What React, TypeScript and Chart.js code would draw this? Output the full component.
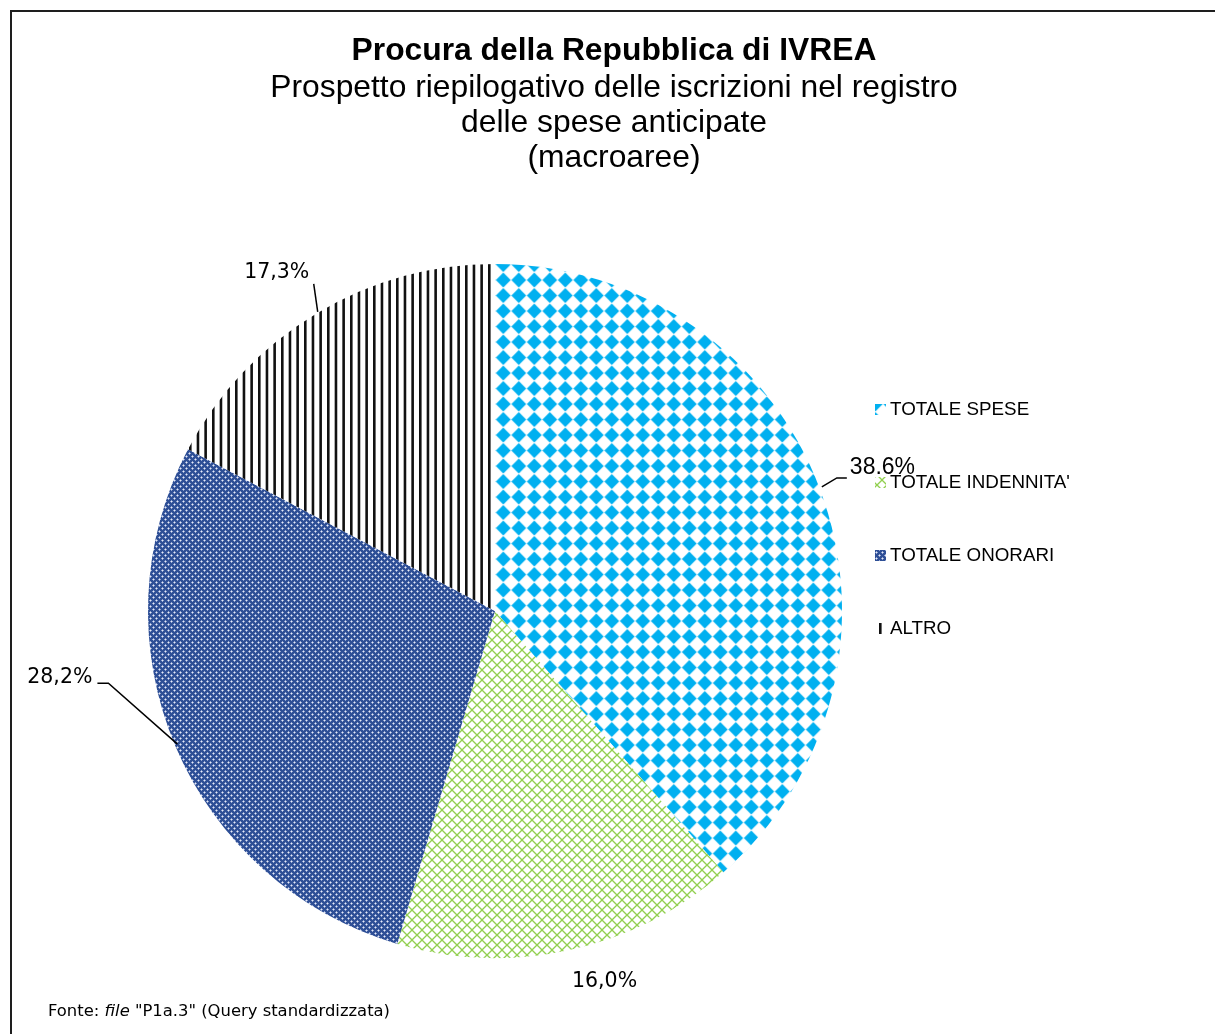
import React, { useEffect, useRef } from 'react';
import { Chart, registerables } from 'chart.js';

Chart.register(...registerables);

const categories = ['TOTALE SPESE', "TOTALE INDENNITA'", 'TOTALE ONORARI', 'ALTRO'];
const shares = [38.6, 16.0, 28.2, 17.3];
const shareLabels = ['38.6%', '16,0%', '28,2%', '17,3%'];
const titleText = 'Procura della Repubblica di IVREA';
const subtitleLines = ['Prospetto riepilogativo delle iscrizioni nel registro', 'delle spese anticipate', '(macroaree)'];
const sourceParts = ['Fonte: ', 'file', ' "P1a.3" (Query standardizzata)'];

const W = 1215;
const H = 1034;

function tile(w: number, h: number, draw: (g: CanvasRenderingContext2D) => void) {
  const c = document.createElement('canvas');
  c.width = w;
  c.height = h;
  const g = c.getContext('2d') as CanvasRenderingContext2D;
  draw(g);
  return c;
}

function withOffset(p: CanvasPattern | null, ox: number, oy: number) {
  if (p && (p as any).setTransform && typeof DOMMatrix !== 'undefined') {
    p.setTransform(new DOMMatrix().translate(ox, oy));
  }
  return p;
}

function makePatterns(ctx: CanvasRenderingContext2D) {
  const blue = tile(31, 31, (g) => {
    g.fillStyle = '#ffffff';
    g.fillRect(0, 0, 31, 31);
    g.fillStyle = '#00B0F0';
    const h = 7.4;
    for (const cx of [0, 15.5, 31]) {
      for (const cy of [0, 15.5, 31]) {
        g.beginPath();
        g.moveTo(cx, cy - h);
        g.lineTo(cx + h, cy);
        g.lineTo(cx, cy + h);
        g.lineTo(cx - h, cy);
        g.closePath();
        g.fill();
      }
    }
  });
  const green = tile(10, 10, (g) => {
    g.fillStyle = '#ffffff';
    g.fillRect(0, 0, 10, 10);
    g.strokeStyle = '#92D050';
    g.lineWidth = 1.3;
    for (const o of [-10, 0, 10]) {
      g.beginPath();
      g.moveTo(o - 1, -1);
      g.lineTo(o + 11, 11);
      g.stroke();
      g.beginPath();
      g.moveTo(o + 11, -1);
      g.lineTo(o - 1, 11);
      g.stroke();
    }
  });
  const navy = tile(6, 6, (g) => {
    g.fillStyle = '#2E4F96';
    g.fillRect(0, 0, 6, 6);
    g.fillStyle = '#E6EBF5';
    g.fillRect(0, 0, 1, 1);
    g.fillRect(3, 3, 1, 1);
    g.fillStyle = '#93A4D0';
    for (const [x, y] of [[1, 0], [5, 0], [0, 1], [0, 5], [2, 3], [4, 3], [3, 2], [3, 4]]) {
      g.fillRect(x, y, 1, 1);
    }
  });
  const stripes = tile(23, 4, (g) => {
    g.fillStyle = '#ffffff';
    g.fillRect(0, 0, 23, 4);
    g.fillStyle = '#111111';
    for (const x of [0, 23 / 3, 46 / 3]) g.fillRect(x, 0, 2.6, 4);
  });
  return [
    withOffset(ctx.createPattern(blue, 'repeat'), 7.3, 1),
    withOffset(ctx.createPattern(green, 'repeat'), 2, 0),
    ctx.createPattern(navy, 'repeat'),
    withOffset(ctx.createPattern(stripes, 'repeat'), 5, 0),
  ];
}

// label placement relative to the outer-edge midpoint of each slice
const labelPlacement = [
  { elbow: [17, -11], tail: [27, -11], text: [30, -21], align: 'left', font: '23px "Liberation Sans", Arial, sans-serif' },
  { elbow: null, tail: null, text: [35, 32], align: 'center', font: '20.5px "DejaVu Sans", Verdana, sans-serif' },
  { elbow: [-67, -63], tail: [-78, -63], text: [-83, -69], align: 'right', font: '20.5px "DejaVu Sans", Verdana, sans-serif' },
  { elbow: [-2, -30], tail: null, text: [-39, -41], align: 'center', font: '20.5px "DejaVu Sans", Verdana, sans-serif' },
];

const decorPlugin = {
  id: 'decor',
  beforeDraw(chart: any) {
    const ctx = chart.ctx;
    ctx.save();
    ctx.fillStyle = '#ffffff';
    ctx.fillRect(0, 0, W, H);
    ctx.restore();
  },
  afterDraw(chart: any) {
    const ctx: CanvasRenderingContext2D = chart.ctx;
    const meta = chart.getDatasetMeta(0);
    const patterns = chart.data.datasets[0].backgroundColor;
    ctx.save();

    // frame
    ctx.fillStyle = '#1e1e1e';
    ctx.fillRect(10, 10, 2, H - 10);
    ctx.fillRect(10, 10, W - 10, 2);

    // titles
    ctx.fillStyle = '#000000';
    ctx.textAlign = 'center';
    ctx.textBaseline = 'alphabetic';
    ctx.font = 'bold 31.8px "Liberation Sans", Arial, sans-serif';
    ctx.fillText(titleText, 614, 60);
    ctx.font = '31.8px "Liberation Sans", Arial, sans-serif';
    subtitleLines.forEach((line, i) => ctx.fillText(line, 614, 97 + i * 35));

    // data labels with leader lines
    meta.data.forEach((arc: any, i: number) => {
      const p = arc.getProps(['x', 'y', 'startAngle', 'endAngle', 'outerRadius'], true);
      const mid = (p.startAngle + p.endAngle) / 2;
      const ex = p.x + Math.cos(mid) * p.outerRadius;
      const ey = p.y + Math.sin(mid) * p.outerRadius;
      const lp = labelPlacement[i];
      ctx.strokeStyle = '#000000';
      ctx.lineWidth = 1.5;
      if (lp.elbow) {
        ctx.beginPath();
        ctx.moveTo(ex + 2, ey - 2);
        ctx.lineTo(ex + lp.elbow[0], ey + lp.elbow[1]);
        if (lp.tail) ctx.lineTo(ex + lp.tail[0], ey + lp.tail[1]);
        ctx.stroke();
      }
      ctx.font = lp.font;
      ctx.textAlign = lp.align as CanvasTextAlign;
      ctx.textBaseline = 'middle';
      ctx.fillStyle = '#000000';
      ctx.fillText(shareLabels[i], ex + lp.text[0], ey + lp.text[1]);
    });

    // legend
    ctx.font = '18.8px "Liberation Sans", Arial, sans-serif';
    ctx.textAlign = 'left';
    ctx.textBaseline = 'middle';
    categories.forEach((name, i) => {
      const cy = 409 + i * 73;
      ctx.fillStyle = patterns[i];
      ctx.fillRect(875, cy - 5, 11, 11);
      ctx.fillStyle = '#000000';
      ctx.fillText(name, 890, cy + 1);
    });

    // source note
    ctx.textBaseline = 'alphabetic';
    let x = 48;
    const fonts = [
      '16.4px "DejaVu Sans", Verdana, sans-serif',
      'italic 16.4px "DejaVu Sans", Verdana, sans-serif',
      '16.4px "DejaVu Sans", Verdana, sans-serif',
    ];
    sourceParts.forEach((part, i) => {
      ctx.font = fonts[i];
      ctx.fillText(part, x, 1016);
      x += ctx.measureText(part).width;
    });

    ctx.restore();
  },
};

export default function App() {
  const ref = useRef<HTMLCanvasElement | null>(null);

  useEffect(() => {
    document.body.style.margin = '0';
    const canvas = ref.current;
    if (!canvas) return;
    const ctx = canvas.getContext('2d') as CanvasRenderingContext2D;
    const patterns = makePatterns(ctx);
    const chart = new Chart(canvas, {
      type: 'pie',
      data: {
        labels: categories,
        datasets: [
          {
            data: shares,
            backgroundColor: patterns as any,
            borderWidth: 0,
            hoverOffset: 0,
          },
        ],
      },
      options: {
        responsive: false,
        animation: false,
        devicePixelRatio: 1,
        layout: { padding: { left: 148, top: 264, right: 373, bottom: 76 } },
        plugins: {
          legend: { display: false },
          title: { display: false },
          tooltip: { enabled: false },
        },
        events: [],
      },
      plugins: [decorPlugin],
    });
    return () => chart.destroy();
  }, []);

  return (
    <div style={{ width: W, height: H, background: '#ffffff' }}>
      <canvas ref={ref} width={W} height={H} style={{ display: 'block', width: W, height: H }} />
    </div>
  );
}
